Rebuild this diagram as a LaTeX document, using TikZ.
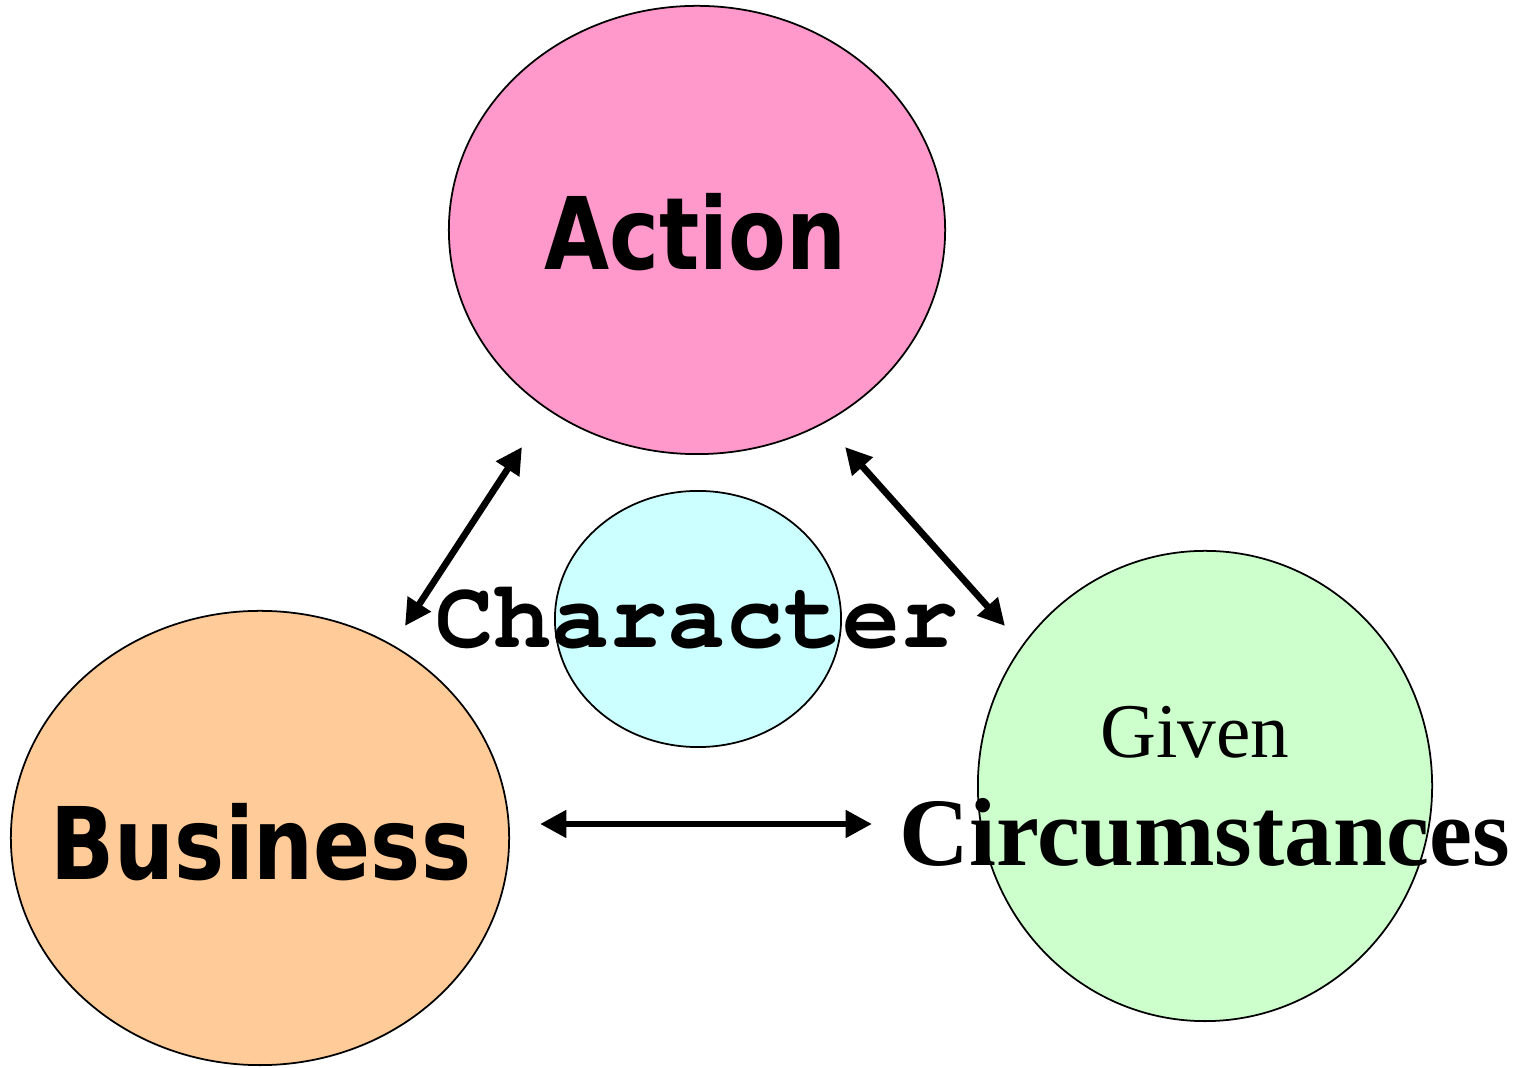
\documentclass[tikz,border=0pt]{standalone}
\usepackage{graphicx}
\usepackage{fontspec}
\usetikzlibrary{shapes.geometric,arrows.meta}
\newfontfamily\hdsans{DejaVu Sans}
\newfontfamily\hdmono{texgyrecursor}[Extension=.otf, UprightFont=*-regular, BoldFont=*-bold]
\newfontfamily\hdserif{Liberation Serif}
\definecolor{actpink}{HTML}{FF99CC}
\definecolor{charcyan}{HTML}{CCFFFF}
\definecolor{busorange}{HTML}{FFCC99}
\definecolor{givgreen}{HTML}{CCFFCC}
\tikzset{
  blob/.style={ellipse, draw=black, line width=0.5pt, inner sep=0pt},
  lbl/.style={anchor=base, inner sep=0pt},
  link/.style={line width=1.9pt, {Triangle[length=7.5pt,width=7.5pt]}-{Triangle[length=7.5pt,width=7.5pt]}},
  bigsans/.style={font=\fontsize{28.5}{32}\selectfont\hdsans\bfseries}
}
\begin{document}
\begin{tikzpicture}[x=0.01cm,y=-0.01cm]
\useasboundingbox (0,0) rectangle (1527,1068);
% ellipses
\node[blob, fill=actpink, minimum width=4.96cm, minimum height=4.48cm] (action) at (697,230) {};
\node[blob, fill=charcyan, minimum width=2.86cm, minimum height=2.56cm] (character) at (698,619) {};
\node[blob, fill=busorange, minimum width=4.98cm, minimum height=4.54cm] (business) at (260,838) {};
\node[blob, fill=givgreen, minimum width=4.54cm, minimum height=4.70cm] (given) at (1205,786) {};
% labels
\node[lbl, bigsans] (tAction) at (695,270) {\scalebox{0.84}[1]{Action}};
\node[lbl, bigsans] (tBusiness) at (261,880) {\scalebox{0.84}[1]{Business}};
\node[lbl, font=\fontsize{27.5}{30}\selectfont\hdmono\bfseries] (tChar) at (697,648) {Character};
\node[lbl, font=\fontsize{22}{26}\selectfont\hdserif] (tGiven) at (1195,758) {Given};
\node[lbl, font=\fontsize{27.5}{30}\selectfont\hdserif\bfseries] (tCirc) at (1205,866) {Circumstances};
% connector ends
\coordinate (a1) at (522,447);
\coordinate (b1) at (405,626);
\coordinate (a2) at (845,447);
\coordinate (b2) at (1005,626);
\coordinate (a3) at (540,824);
\coordinate (b3) at (872,824);
\draw[link] (a1) -- (b1);
\draw[link] (a2) -- (b2);
\draw[link] (a3) -- (b3);
\end{tikzpicture}
\end{document}
